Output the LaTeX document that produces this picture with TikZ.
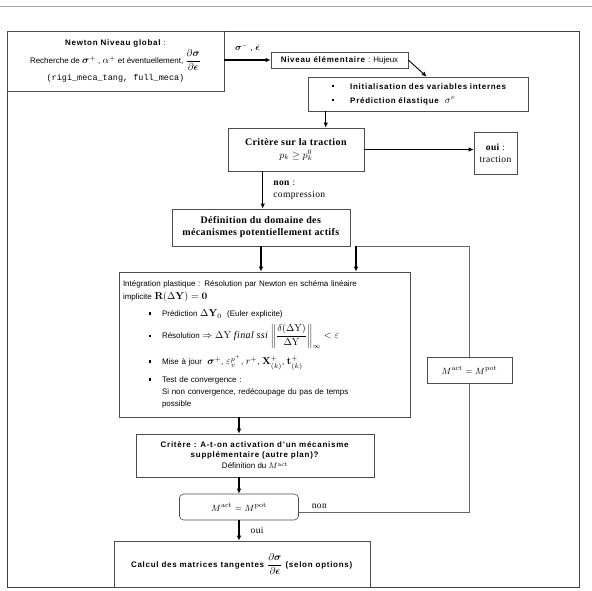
\documentclass[tikz,border=0pt]{standalone}
\usepackage{amsmath,bm}
\usepackage[no-math]{fontspec}
\setmainfont{Liberation Sans}[BoldFeatures={LetterSpace=9}]
\setmonofont{Liberation Mono}
\newfontfamily\timesfont{Liberation Serif}[LetterSpace=4]
\usetikzlibrary{arrows.meta,calc}

\newcommand{\puce}{\rule[2pt]{2.2pt}{2.2pt}}
\newcommand{\gm}[1]{{\fontsize{10}{12}\selectfont$#1$}}

\tikzset{
  box/.style={draw=black!70, line width=0.6pt, fill=white, inner sep=3pt, align=center,
    font=\fontsize{8}{10}\selectfont},
  serifbox/.style={box, font=\timesfont\fontsize{10}{12}\selectfont},
  lbl/.style={font=\timesfont\fontsize{9.5}{12}\selectfont, align=left, inner sep=1pt},
  flow/.style={-{Latex[length=5pt,width=4.5pt]}, line width=1.3pt},
  backline/.style={draw=black!60, line width=0.7pt},
}

\begin{document}
\begin{tikzpicture}[x=1pt,y=-1pt]
\useasboundingbox (0,0) rectangle (592,590);
\draw [black!35, line width=0.8pt] (0,6) -- (592,6);
\draw [black!75, line width=0.8pt] (7,31) rectangle (579,587);

% niveau global
\node [box, minimum width=217pt, minimum height=60pt, inner sep=2pt] (newton) at (115.5,61)
  {\textbf{Newton Niveau global} :\\[2pt]
   Recherche de \gm{\bm{\sigma}^{+}} , \gm{\alpha^{+}} et éventuellement, \gm{\dfrac{\partial\bm{\sigma}}{\partial\bm{\epsilon}}}\\[3pt]
   {\ttfamily\fontsize{8.5}{10}\selectfont(rigi\_meca\_tang, full\_meca)}};
\node [box, minimum width=137pt, minimum height=16pt, inner sep=1pt] (niveau) at (339.5,60)
  {\textbf{Niveau élémentaire} : Hujeux};
\node [box, minimum width=220pt, minimum height=34pt, text width=214pt, align=left] (init) at (418,94)
  {\hspace*{21pt}\puce\hspace{16pt}\textbf{Initialisation des variables internes}\\[4pt]
   \hspace*{21pt}\puce\hspace{16pt}\textbf{Prédiction élastique} \ \gm{\sigma^{e}}};

% critere traction
\node [serifbox, minimum width=136pt, minimum height=43pt] (critere) at (296,149.5)
  {\textbf{Critère sur la traction}\\[1pt] \gm{p_k \geq p_k^{0}}};
\node [serifbox, font=\timesfont\fontsize{9.5}{12}\selectfont, minimum width=43pt, minimum height=42pt] (oui) at (495.5,153)
  {\textbf{oui} :\\ traction};
\node [serifbox, minimum width=178pt, minimum height=37pt, inner sep=1pt] (defn) at (261,227.5)
  {\textbf{Définition du domaine des}\\ \textbf{mécanismes potentiellement actifs}};

% integration plastique
\node [box, font=\fontsize{8}{13}\selectfont, minimum width=291pt, minimum height=145pt, text width=283pt, align=left, inner sep=4pt] (integ) at (264.5,344.5)
  {Intégration plastique : Résolution par Newton en schéma linéaire\\
   implicite \gm{\mathbf{R}(\Delta\mathbf{Y}) = \mathbf{0}}
   \begin{list}{\puce}{\leftmargin=39pt \labelsep=11pt \labelwidth=20pt \itemsep=5pt \topsep=4pt \parsep=0pt}
   \item Prédiction \gm{\Delta\mathbf{Y}_{0}} \ (Euler explicite)
   \item Résolution \gm{\Rightarrow \Delta\mathrm{Y}} {\timesfont\itshape\fontsize{10}{12}\selectfont final ssi}
     \gm{\left\|\dfrac{\delta(\Delta\mathrm{Y})}{\Delta\mathrm{Y}}\right\|_{\infty} < \varepsilon}
   \item Mise à jour \ \gm{\bm{\sigma}^{+}}, \gm{\varepsilon_v^{p^{+}}}, \gm{r^{+}}, \gm{\mathbf{X}^{+}_{(k)}}, \gm{\mathbf{t}^{+}_{(k)}}
   \item Test de convergence :\\[-1pt]
     Si non convergence, redécoupage du pas de temps\\[-1pt] possible
   \end{list}};
\node [box, minimum width=85pt, minimum height=26pt, font=\fontsize{9.5}{11}\selectfont] (mright) at (469.5,370)
  {$M^{\mathrm{act}} = M^{\mathrm{pot}}$};

% critere activation
\node [box, minimum width=238pt, minimum height=43pt, inner sep=2pt] (crit2) at (255,455.5)
  {\textbf{Critère : A-t-on activation d'un mécanisme}\\
   \textbf{supplémentaire (autre plan)?}\\[1pt]
   Définition du $M^{\mathrm{act}}$};
\node [box, rounded corners=4pt, minimum width=119pt, minimum height=26pt, font=\fontsize{9.5}{11}\selectfont] (mact) at (239,507)
  {$M^{\mathrm{act}} = M^{\mathrm{pot}}$};
\node [box, minimum width=256pt, minimum height=46pt] (calcul) at (242,564)
  {\textbf{Calcul des matrices tangentes \gm{\dfrac{\partial\bm{\sigma}}{\partial\bm{\epsilon}}} (selon options)}};

\coordinate (retour) at (356,246);

% connecteurs
\draw [flow] (newton.east |- niveau.west) -- (niveau.west)
  node [midway, above=4pt, font=\fontsize{9}{10}\selectfont] {$\bm{\sigma}^{-}$ , $\dot{\bm{\epsilon}}$};
\draw [flow, line width=0.9pt] (niveau.east) -- ([xshift=119pt]init.north west);
\draw [flow] ([xshift=18pt]init.south west) -- ([xshift=18pt]init.south west |- critere.north);
\draw [flow] (critere.east) -- (critere.east -| oui.west);
\draw [flow] ([xshift=35pt]critere.south west) -- ([xshift=35pt]critere.south west |- defn.north)
  node [midway, right=9pt, lbl] {\textbf{non} :\\ compression};
\draw [flow] (defn.south) -- (defn.south |- integ.north);
\draw [flow] (integ.south -| mact.north) -- (crit2.north -| mact.north);
\draw [flow] (crit2.south -| mact.north) -- (mact.north);
\draw [flow] (mact.south) -- (mact.south |- calcul.north)
  node [midway, right=10pt, lbl] {oui};

% boucle
\draw [backline] ([yshift=-5pt]mact.east) -- node [pos=0.12, above=2pt, lbl] {non}
  ([yshift=-5pt]mact.east -| mright.south) -- (mright.south);
\draw [backline] (mright.north) -- (mright.north |- retour) -- (retour);
\draw [flow] (retour) -- (retour |- integ.north);
\end{tikzpicture}
\end{document}
